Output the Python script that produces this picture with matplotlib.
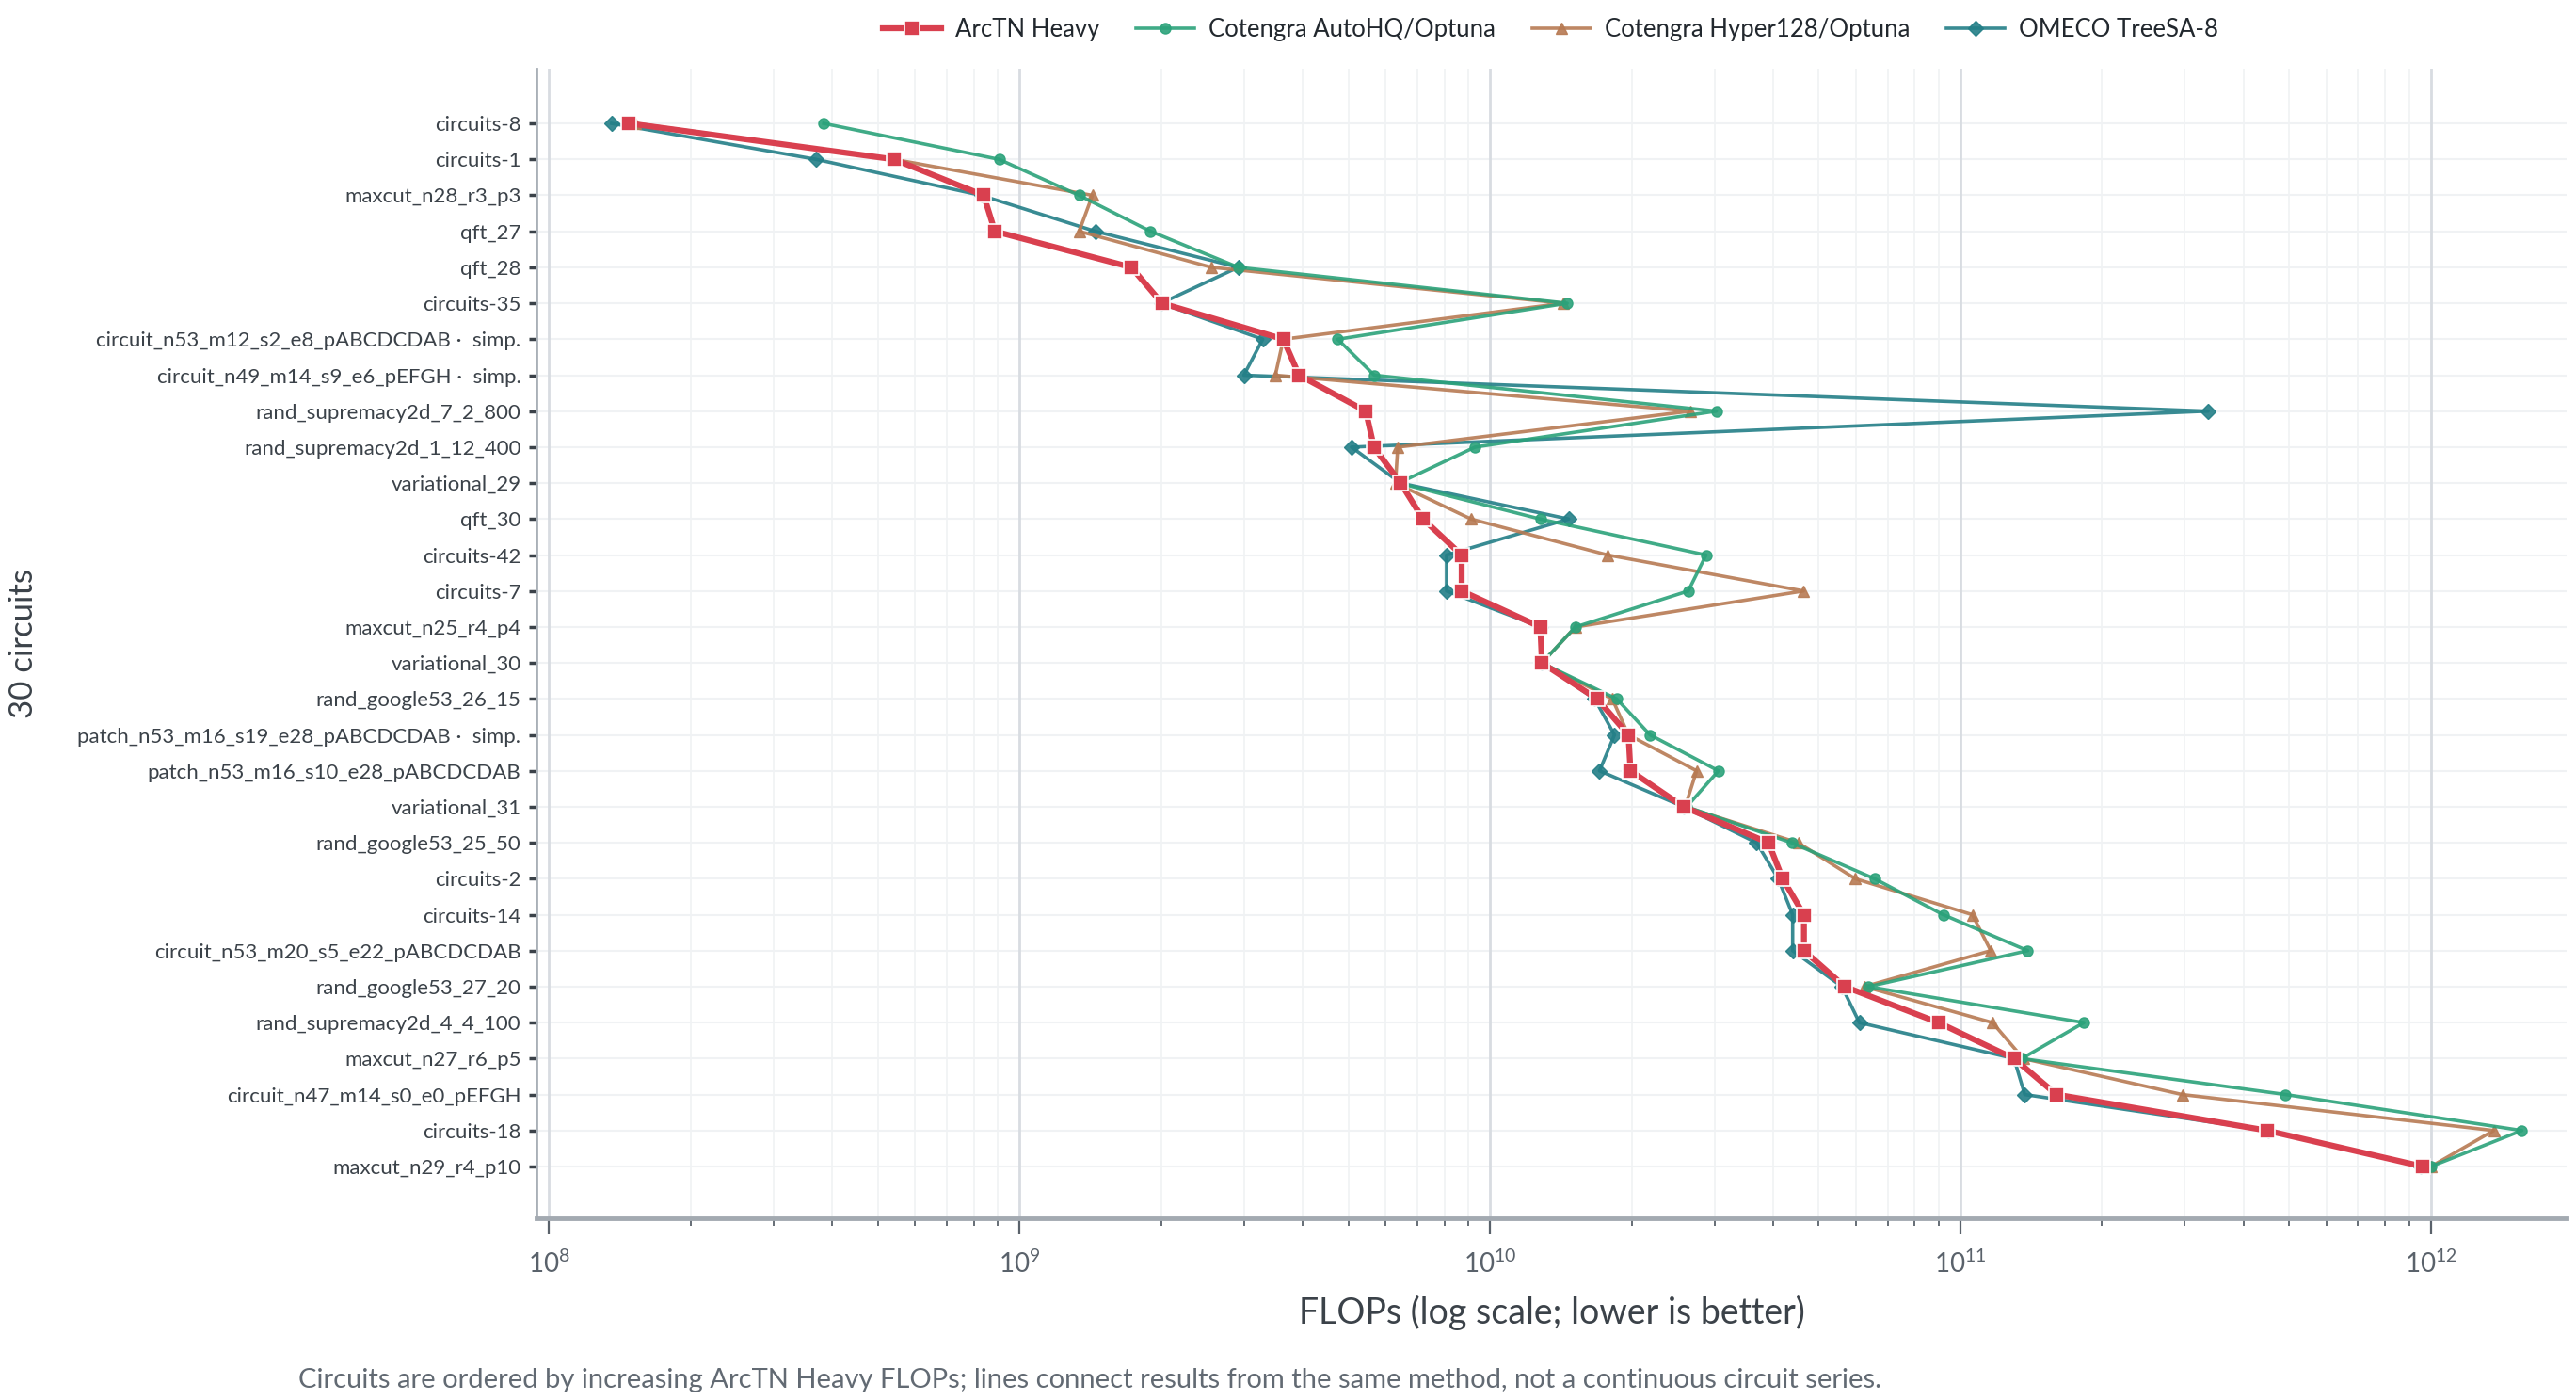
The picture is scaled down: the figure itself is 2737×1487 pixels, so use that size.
import matplotlib
matplotlib.use('Agg')
import matplotlib.pyplot as plt
import numpy as np
from matplotlib.ticker import LogLocator, NullFormatter

plt.rcParams['font.family'] = ['Lato', 'DejaVu Sans']

circuits = [
    "circuits-8", "circuits-1", "maxcut_n28_r3_p3", "qft_27", "qft_28", "circuits-35",
    "circuit_n53_m12_s2_e8_pABCDCDAB \u00b7  simp.", "circuit_n49_m14_s9_e6_pEFGH \u00b7  simp.",
    "rand_supremacy2d_7_2_800", "rand_supremacy2d_1_12_400", "variational_29", "qft_30",
    "circuits-42", "circuits-7", "maxcut_n25_r4_p4", "variational_30", "rand_google53_26_15",
    "patch_n53_m16_s19_e28_pABCDCDAB \u00b7  simp.", "patch_n53_m16_s10_e28_pABCDCDAB",
    "variational_31", "rand_google53_25_50", "circuits-2", "circuits-14",
    "circuit_n53_m20_s5_e22_pABCDCDAB", "rand_google53_27_20", "rand_supremacy2d_4_4_100",
    "maxcut_n27_r6_p5", "circuit_n47_m14_s0_e0_pEFGH", "circuits-18", "maxcut_n29_r4_p10",
]

arctn_heavy = [1.48e8, 5.42e8, 8.4e8, 8.87e8, 1.73e9, 2.01e9, 3.64e9, 3.93e9, 5.45e9, 5.67e9,
               6.46e9, 7.21e9, 8.71e9, 8.71e9, 1.28e10, 1.29e10, 1.69e10, 1.97e10, 1.99e10, 2.58e10,
               3.91e10, 4.19e10, 4.65e10, 4.65e10, 5.68e10, 8.98e10, 1.30e11, 1.60e11, 4.48e11, 9.6e11]

autohq = [3.84e8, 9.06e8, 1.34e9, 1.90e9, 2.92e9, 1.46e10, 4.75e9, 5.68e9, 3.03e10, 9.3e9,
          6.4e9, 1.28e10, 2.88e10, 2.64e10, 1.52e10, 1.29e10, 1.86e10, 2.19e10, 3.06e10, 2.62e10,
          4.38e10, 6.57e10, 9.19e10, 1.39e11, 6.37e10, 1.83e11, 1.35e11, 4.91e11, 1.56e12, 1.0e12]

hyper128 = [1.53e8, 5.42e8, 1.43e9, 1.34e9, 2.56e9, 1.43e10, 3.64e9, 3.50e9, 2.67e10, 6.37e9,
            6.3e9, 9.12e9, 1.78e10, 4.64e10, 1.52e10, 1.29e10, 1.82e10, 1.97e10, 2.75e10, 2.6e10,
            4.52e10, 5.98e10, 1.06e11, 1.16e11, 6.25e10, 1.17e11, 1.36e11, 2.96e11, 1.36e12, 1.0e12]

omeco = [1.36e8, 3.7e8, 8.3e8, 1.45e9, 2.92e9, 2.0e9, 3.29e9, 3.0e9, 3.36e11, 5.08e9,
         6.46e9, 1.47e10, 8.09e9, 8.09e9, 1.28e10, 1.29e10, 1.67e10, 1.84e10, 1.71e10, 2.58e10,
         3.69e10, 4.1e10, 4.40e10, 4.40e10, 5.6e10, 6.10e10, 1.30e11, 1.37e11, 4.5e11, 9.5e11]

RED = '#d9404f'
GREEN = '#2ba27a'
BROWN = '#b77a53'
TEAL = '#237f87'
TXT = '#3b4249'

fig = plt.figure(figsize=(27.37, 14.87), dpi=100)
ax = fig.add_axes([0.2083, 0.1298, 0.788, 0.8211])

y = np.arange(len(circuits))

# grid first
ax.set_axisbelow(True)
for yy in y:
    ax.axhline(yy, color='#f0f2f4', lw=1.5, zorder=0)

l_om, = ax.plot(omeco, y, color=TEAL, lw=2.6, marker='D', ms=8, alpha=0.9,
                label='OMECO TreeSA-8', zorder=3)
l_hy, = ax.plot(hyper128, y, color=BROWN, lw=2.6, marker='^', ms=8, alpha=0.9,
                label='Cotengra Hyper128/Optuna', zorder=3)
l_au, = ax.plot(autohq, y, color=GREEN, lw=2.6, marker='o', ms=8, alpha=0.9,
                label='Cotengra AutoHQ/Optuna', zorder=3)
l_ar, = ax.plot(arctn_heavy, y, color=RED, lw=4.5, marker='s', ms=12, mec='white', mew=1.2,
                label='ArcTN Heavy', zorder=5)

ax.set_xscale('log')
ax.set_xlim(10 ** 7.974, 10 ** 12.288)
ax.set_ylim(len(circuits) - 1 + 1.44, -1.52)

ax.xaxis.set_major_locator(LogLocator(base=10, numticks=20))
ax.xaxis.set_minor_locator(LogLocator(base=10, subs=np.arange(2, 10), numticks=100))
ax.xaxis.set_minor_formatter(NullFormatter())
ax.grid(True, which='major', axis='x', color='#d8dce1', lw=2)
ax.grid(True, which='minor', axis='x', color='#f1f3f5', lw=1.3)

ax.set_yticks(y)
ax.set_yticklabels(circuits)
ax.tick_params(axis='y', length=6, width=2.5, color='#3b4249', labelsize=16, labelcolor=TXT, pad=6)
ax.tick_params(axis='x', which='major', length=12, width=1.6, color='#5a626b',
               labelsize=20, labelcolor='#5a626b', pad=12)
ax.tick_params(axis='x', which='minor', length=6, width=1.3, color='#5a626b')

for s in ['top', 'right']:
    ax.spines[s].set_visible(False)
ax.spines['left'].set_color('#a9b0b7')
ax.spines['left'].set_linewidth(2)
ax.spines['bottom'].set_color('#a3aab1')
ax.spines['bottom'].set_linewidth(3.5)

ax.set_xlabel('FLOPs (log scale; lower is better)', fontsize=27, color='#3b4249', labelpad=14)
fig.text(0.009, 0.1298 + 0.8211 / 2, '30 circuits', rotation=90, va='center', ha='center',
         fontsize=25, color='#3b4249')

fig.legend(handles=[l_ar, l_au, l_hy, l_om], loc='center', bbox_to_anchor=(0.602, 0.979),
           ncol=4, frameon=False, fontsize=18.5, handlelength=2.4, columnspacing=1.5,
           handletextpad=0.6, labelcolor='#22282e')

fig.text(0.116, 0.009, 'Circuits are ordered by increasing ArcTN Heavy FLOPs; lines connect results '
         'from the same method, not a continuous circuit series.', fontsize=21, color='#626a73')

fig.savefig('out.png', dpi=100, facecolor='white')
